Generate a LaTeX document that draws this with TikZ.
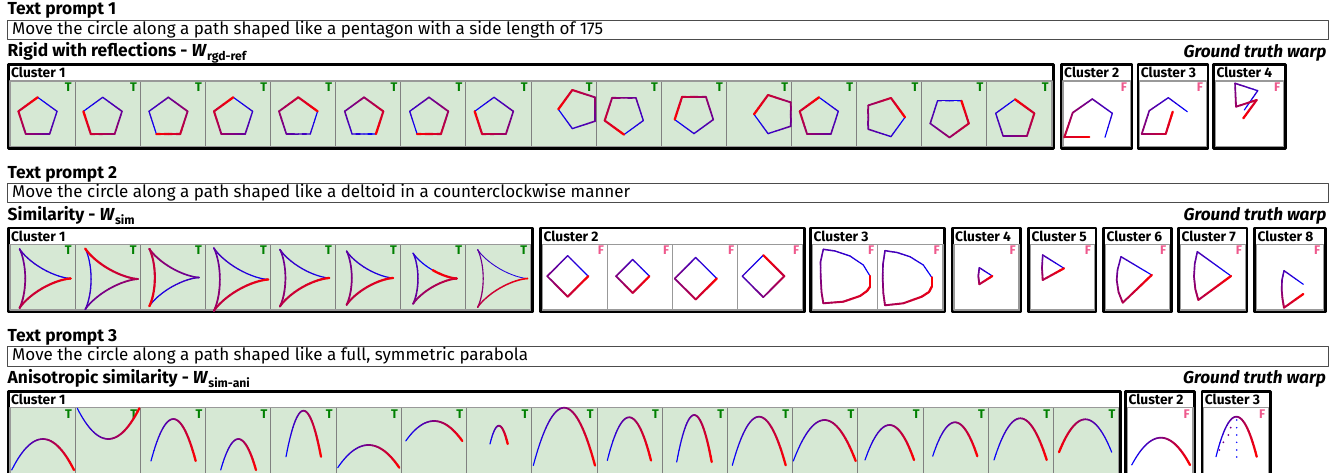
\documentclass[tikz,border=0pt]{standalone}
\usepackage{fontspec}
\setmainfont{Fira Sans}
\definecolor{panelgreen}{RGB}{214,232,212}
\definecolor{tgreen}{RGB}{0,128,0}
\definecolor{fpink}{RGB}{238,88,140}
\tikzset{
  heading/.style={font=\fontsize{17.4}{20}\selectfont\bfseries, anchor=base west, inner sep=0pt},
  gtwarp/.style={font=\fontsize{17.2}{20}\selectfont\bfseries\itshape, anchor=base east, inner sep=0pt},
  promptbox/.style={draw=black!70, line width=0.8pt, anchor=north west, minimum width=1321pt, minimum height=19.3pt, inner sep=0pt},
  prompttext/.style={font=\fontsize{17}{20}\selectfont, anchor=base west, inner sep=0pt},
  clusterframe/.style={draw=black, line width=2.6pt},
  clusterlabel/.style={font=\fontsize{13.8}{15}\selectfont\bfseries, anchor=base west, inner sep=0pt},
  panelT/.style={fill=panelgreen, draw=black!50, line width=0.9pt},
  panelF/.style={fill=white, draw=black!40, line width=0.9pt},
  markT/.style={font=\fontsize{12.5}{13}\selectfont\bfseries, text=tgreen, anchor=north east, inner sep=0pt},
  markF/.style={font=\fontsize{12.5}{13}\selectfont\bfseries, text=fpink, anchor=north east, inner sep=0pt},
  strip/.style={draw=black!40, line width=1.4pt},
}
% line width of a trail piece: \lwa + \lwb * t
\newcommand\lwa{1.1}
\newcommand\lwb{1.2}
\newcommand\seg[3]{%
  \pgfmathtruncatemacro\segc{100*(#1)}%
  \pgfmathsetmacro\segw{\lwa+\lwb*(#1)}%
  \draw[line width=\segw pt, draw=red!\segc!blue] #2 -- #3;}
% #1 row tag, #2 number, #3 left, #4 right, #5 top, #6 panels, #7 T/F
\newcommand\clusterbox[7]{%
  \draw[clusterframe] (#3+1.3,#5+1.3) rectangle (#4-1.3,#5+85.2);
  \node[clusterlabel] (cl#1#2) at (#3+4,#5+14.3) {Cluster #2};
  \pgfmathsetmacro\pw{(#4-#3-6)/#6}
  \foreach \k in {1,...,#6}{
    \pgfmathsetmacro\xa{#3+3+(\k-1)*\pw}
    \pgfmathsetmacro\xb{\xa+\pw}
    \draw[panel#7] (\xa,#5+17.7) rectangle (\xb,#5+83.4);
    \node[mark#7] (mk#1#2-\k) at (\xb-3.2,#5+19.4) {#7};
  }
  \draw[strip] (#3+3,#5+17.7) rectangle (#4-3,#5+83.4);
}
% #1 sides, #2 cx, #3 cy, #4 radius, #5 start angle, #6 direction
\newcommand\gradpolygon[6]{%
  \foreach \k in {1,...,#1}{
    \pgfmathsetmacro\angA{#5+#6*360/#1*(\k-1)}
    \pgfmathsetmacro\angB{#5+#6*360/#1*\k}
    \foreach \j in {1,...,6}{
      \pgfmathsetmacro\fra{(\j-1)/6}
      \pgfmathsetmacro\frb{\j/6}
      \seg{(\k-1+(\j-0.5)/6)/#1}%
        {({#2+#4*((1-\fra)*cos(\angA)+\fra*cos(\angB))},{#3-#4*((1-\fra)*sin(\angA)+\fra*sin(\angB))})}%
        {({#2+#4*((1-\frb)*cos(\angA)+\frb*cos(\angB))},{#3-#4*((1-\frb)*sin(\angA)+\frb*sin(\angB))})}
    }
  }
}
% #1 cx, #2 cy, #3 a, #4 start angle
\newcommand\deltoid[4]{%
  \foreach \i in {1,...,60}{
    \pgfmathsetmacro\tA{#4+6*(\i-1)}
    \pgfmathsetmacro\tB{#4+6*\i}
    \seg{(\i-0.5)/60}%
      {({#1+#3*(2*cos(\tA)+cos(2*\tA))},{#2-#3*(2*sin(\tA)-sin(2*\tA))})}%
      {({#1+#3*(2*cos(\tB)+cos(2*\tB))},{#2-#3*(2*sin(\tB)-sin(2*\tB))})}
  }
}
% #1 left x, #2 right x, #3 apex y, #4 end y, #5 reversed (0/1)
\newcommand\parab[5]{%
  \foreach \i in {1,...,30}{
    \pgfmathsetmacro\sA{(\i-1)/30}
    \pgfmathsetmacro\sB{\i/30}
    \seg{abs(#5-(\i-0.5)/30)}%
      {({#1+(#2-#1)*\sA},{#4+4*(#3-#4)*\sA*(1-\sA)})}%
      {({#1+(#2-#1)*\sB},{#4+4*(#3-#4)*\sB*(1-\sB)})}
  }
}
% list of x/y/t
\newcommand\gradpoly[1]{%
  \foreach \pxx/\pyy/\ptt [remember=\pxx as \qxx (initially 0), remember=\pyy as \qyy (initially 0), remember=\ptt as \qtt (initially -1)] in {#1}{
    \ifdim\qtt pt>-0.5pt
      \foreach \j in {1,...,5}{
        \pgfmathsetmacro\fra{(\j-1)/5}
        \pgfmathsetmacro\frb{\j/5}
        \seg{\qtt+(\ptt-\qtt)*(\j-0.5)/5}%
          {({\qxx+(\pxx-\qxx)*\fra},{\qyy+(\pyy-\qyy)*\fra})}%
          {({\qxx+(\pxx-\qxx)*\frb},{\qyy+(\pyy-\qyy)*\frb})}
      }
    \fi
  }
}
\begin{document}
\begin{tikzpicture}[x=1pt, y=-1pt, line cap=round, line join=round]
\useasboundingbox (0,0) rectangle (1340,473);
\clip (0,0) rectangle (1340,473);
\fill[white] (0,0) rectangle (1340,473);

% ---- prompt 1: pentagon
\node[heading] (tp1) at (7.5,15) {Text prompt 1};
\node[promptbox] (pb1) at (7,19.7) {};
\node[prompttext] (pt1) at (12,34.2) {Move the circle along a path shaped like a pentagon with a side length of 175};
\node[heading] (wt1) at (7.5,57) {Rigid with reflections - \textit{W}\textsubscript{rgd-ref}};
\node[gtwarp] (gt1) at (1326.5,57.3) {Ground truth warp};
\clusterbox{a}{1}{7}{1055}{63.3}{16}{T}
\clusterbox{a}{2}{1060}{1133.3}{63.3}{1}{F}
\clusterbox{a}{3}{1136.7}{1209.3}{63.3}{1}{F}
\clusterbox{a}{4}{1212.3}{1286.7}{63.3}{1}{F}
\foreach \cx/\cy/\st/\dir in {37.7/117.6/90/-1, 102.7/117.6/162/-1, 168.3/117.6/234/-1, 233.3/117.6/90/-1,
  298.3/117.6/18/-1, 364/117.6/-54/-1, 429/117.6/234/-1, 494/117.6/162/-1,
  578.6/109.3/180/1, 624/114.3/-90/1, 694/113.3/198/1, 774.3/114.3/180/1,
  819/117.6/90/-1, 884.7/117.3/0/-1, 949.5/117.2/54/1, 1015/119.6/90/1}
  {\gradpolygon{5}{\cx}{\cy}{20.3}{\st}{\dir}}
\gradpoly{1105/137.3/0, 1112.3/113.3/.2, 1092.3/99/.4, 1072.7/112.7/.59, 1064.3/137.3/.8, 1089.3/137.3/1}
\gradpoly{1187.3/111.7/0, 1168.3/97.7/.2, 1149.3/110.7/.39, 1141.7/134/.6, 1165.7/134/.8, 1172.7/111.7/1}
\gradpoly{1244.3/110/0, 1257.7/90.7/.2, 1235/83.3/.41, 1236/106.7/.62, 1256.7/100/.8, 1243.3/118.3/1}

% ---- prompt 2: deltoid
\node[heading] (tp2) at (7.5,178.4) {Text prompt 2};
\node[promptbox] (pb2) at (7,183.1) {};
\node[prompttext] (pt2) at (12,197.6) {Move the circle along a path shaped like a deltoid in a counterclockwise manner};
\node[heading] (wt2) at (7.5,220.4) {Similarity - \textit{W}\textsubscript{sim}};
\node[gtwarp] (gt2) at (1326.5,220.4) {Ground truth warp};
\clusterbox{b}{1}{7}{533.5}{226.7}{8}{T}
\clusterbox{b}{2}{539.3}{805.7}{226.7}{4}{F}
\clusterbox{b}{3}{809.3}{946}{226.7}{2}{F}
\clusterbox{b}{4}{951}{1022}{226.7}{1}{F}
\clusterbox{b}{5}{1027.3}{1097.3}{226.7}{1}{F}
\clusterbox{b}{6}{1102.3}{1172.7}{226.7}{1}{F}
\clusterbox{b}{7}{1177.3}{1248.3}{226.7}{1}{F}
\clusterbox{b}{8}{1253.3}{1326.7}{226.7}{1}{F}
\foreach \cx/\cy/\a/\st in {36.6/278.5/11.36/0, 102.8/279/11.7/120, 165.9/277.5/11.04/240, 232/279.5/12.1/0,
  296.4/278/10.96/0, 362.1/278/10.33/0, 427.7/278.5/9.73/60}
  {\deltoid{\cx}{\cy}{\a}{\st}}
\begin{scope}
  \renewcommand\lwa{0.7}\renewcommand\lwb{0.9}
  \deltoid{494.3}{278.5}{11.1}{0}
\end{scope}
\foreach \cx/\cy/\h/\st in {567.7/276.2/20.5/0, 632.7/276.2/16.7/0, 695.7/278.5/21/0, 763.3/276.2/21/90}
  {\gradpolygon{4}{\cx}{\cy}{\h}{\st}{1}}
\gradpoly{870/276/0, 863.3/265/.074, 850/256/.167, 835/251/.259, 823.3/249.3/.327, 820.5/262/.402, 820.7/276.7/.487,
  821.5/292/.575, 823.3/303.3/.641, 843.3/301.7/.757, 860/296/.859, 867/291/.908, 870/286.7/.938, 870/276/1}
\gradpoly{931.7/277.3/0, 923.3/265/.086, 910/256.7/.177, 897/252.5/.256, 885/250.7/.326, 883/264/.403, 882.7/278.3/.486,
  883.3/293/.57, 885/305.3/.642, 903.3/303.3/.748, 921.7/296.7/.861, 929/292/.912, 931.7/286.7/.946, 931.7/277.3/1}
\gradpoly{992.3/276/0, 979.3/267.7/.32, 978.3/276/.5, 979.3/284.3/.68, 992.3/276/1}
\gradpoly{1064/268.3/0, 1042.7/255/.337, 1042/268/.512, 1042.7/280/.673, 1064/268.3/1}
\gradpoly{1151.7/275/0, 1121/256.7/.29, 1117.5/270/.402, 1116.7/280/.483, 1118.5/292/.581, 1122.7/302.7/.675, 1151.7/275/1}
\gradpoly{1231/276/0, 1197.3/251.7/.316, 1194.7/264/.412, 1194/276.7/.509, 1195.3/289/.604, 1198.3/300/.69, 1231/276/1}
\gradpoly{1303.3/284.3/0, 1284/270.7/.279, 1282/280/.391, 1281.7/290/.509, 1282.5/299/.616, 1284/307.7/.72, 1303.3/294/1}

% ---- prompt 3: parabola
\node[heading] (tp3) at (7.5,341.7) {Text prompt 3};
\node[promptbox] (pb3) at (7,346.4) {};
\node[prompttext] (pt3) at (12,360.9) {Move the circle along a path shaped like a full, symmetric parabola};
\node[heading] (wt3) at (7.5,383.7) {Anisotropic similarity - \textit{W}\textsubscript{sim-ani}};
\node[gtwarp] (gt3) at (1326,383.7) {Ground truth warp};
\clusterbox{c}{1}{7}{1121.7}{390}{17}{T}
\clusterbox{c}{2}{1124.3}{1196}{390}{1}{F}
\clusterbox{c}{3}{1200.7}{1271.7}{390}{1}{F}
\foreach \xl/\xr/\ya/\ye/\rev in {11.7/74/439/470/0, 77.3/139.3/439/408.3/0, 151/195.7/419/461/0, 220.7/256/439/470/0,
  286/321/410.7/456.7/0, 337.7/399.3/445/467.7/0, 405.7/462.3/421/441/0, 490/507.7/425.7/444/0,
  533.3/595/407.7/465.5/0, 607.3/651/417.3/460.5/0, 676.7/711.7/415/462/0, 732.3/785.7/416.7/465.3/0,
  793.3/855.7/420/461/0, 865/914/425/460/0, 932.7/977.3/422.3/456.2/0, 994/1046.7/418.3/460/0,
  1059/1111.7/419.3/452.2/1, 1131.7/1190/437.7/465/0, 1216/1256.7/416.7/456.7/0}
  {\parab{\xl}{\xr}{\ya}{\ye}{\rev}}
\foreach \dx/\dy in {1230.7/427.7, 1228.3/435, 1223.3/442.3, 1219.3/450}
  \fill[red!45!blue] (\dx,\dy) circle (1pt);
\foreach \dy in {420, 427.7, 435, 442.3, 450, 457}
  \fill[blue] (1236.7,\dy) circle (0.8pt);
\end{tikzpicture}
\end{document}
